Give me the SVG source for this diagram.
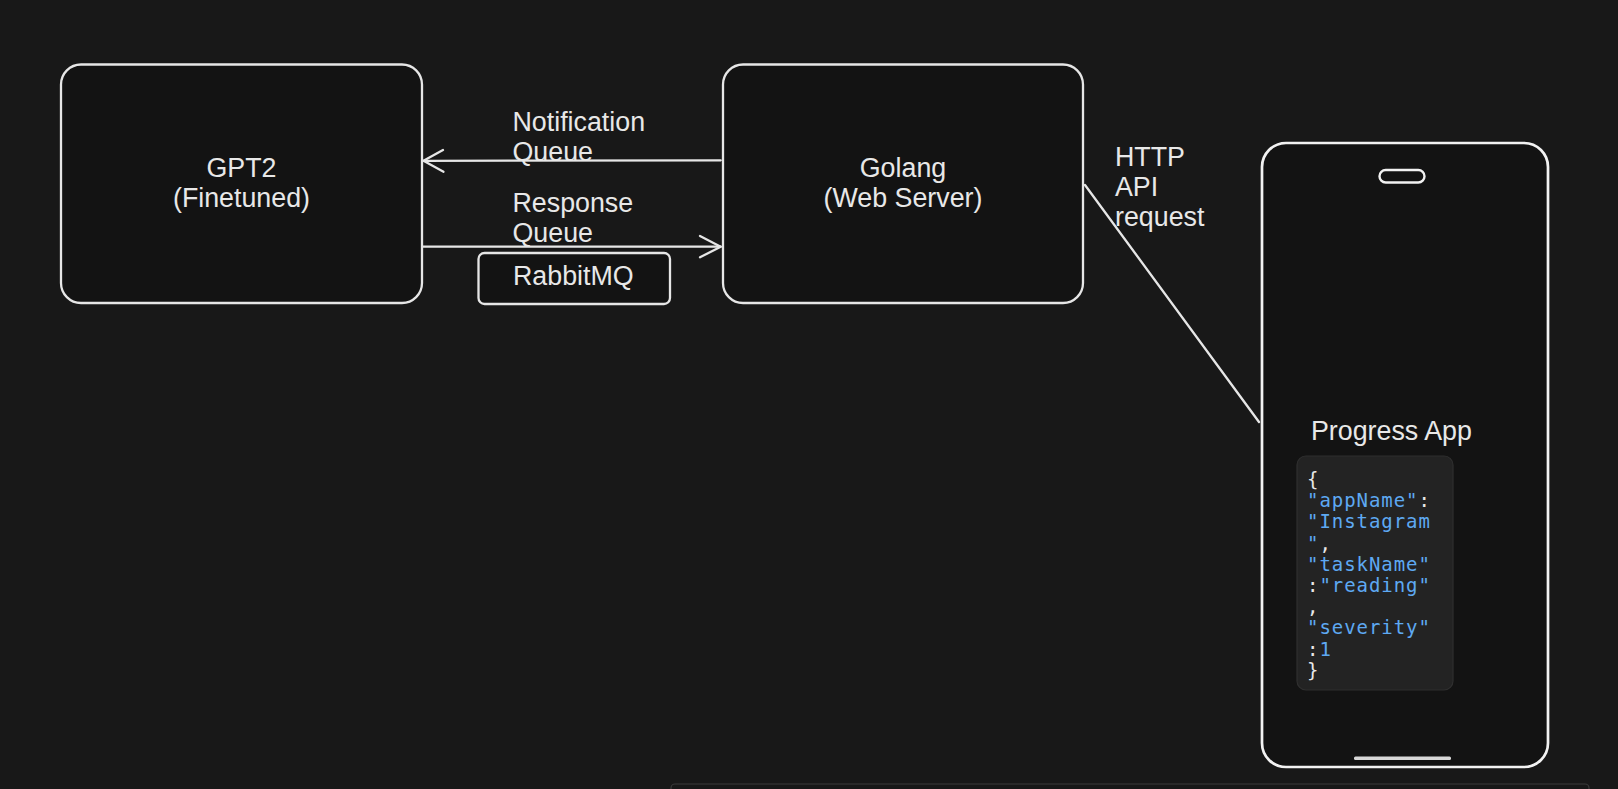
<svg xmlns="http://www.w3.org/2000/svg" width="1618" height="789" viewBox="0 0 1618 789">
  <style>
    .box { fill: #131313; stroke: #e6e6e6; stroke-width: 2.3; }
    .phone { fill: #131313; stroke: #f2f2f2; stroke-width: 2.7; }
    .lbl { font-family: "Liberation Sans", Arial, sans-serif; font-size: 26.8px; fill: #e8e8e8; }
    .mid { text-anchor: middle; }
    .code { font-family: "DejaVu Sans Mono", "Liberation Mono", monospace; font-size: 19px; letter-spacing: 0.95px; fill: #e8e8e8; }
    .k { fill: #5ea9f2; }
    .conn { fill: none; stroke: #e6e6e6; stroke-width: 2.3; stroke-linecap: round; stroke-linejoin: round; }
  </style>
  <rect x="0" y="0" width="1618" height="789" fill="#181818"/>

  <g id="gpt2">
    <rect class="box" x="61" y="64.5" width="361" height="238.5" rx="20"/>
    <text class="lbl mid" x="241.5" y="176.7">GPT2</text>
    <text class="lbl mid" x="241.5" y="206.7">(Finetuned)</text>
  </g>

  <g id="golang">
    <rect class="box" x="723" y="64.5" width="360" height="238.5" rx="20"/>
    <text class="lbl mid" x="903" y="176.7">Golang</text>
    <text class="lbl mid" x="903" y="206.7">(Web Server)</text>
  </g>

  <g id="rabbitmq">
    <rect class="box" x="478.5" y="253" width="191.5" height="51" rx="6"/>
    <text class="lbl" x="513" y="285">RabbitMQ</text>
  </g>

  <g id="connectors">
    <path class="conn" d="M720.7 160.3 L423.5 160.8"/>
    <path class="conn" d="M443 150 L423.5 160.8 L443.5 171.7"/>
    <path class="conn" d="M423 246.7 L720.7 246.7"/>
    <path class="conn" d="M700 236 L720.7 246.7 L700 257.3"/>
    <path class="conn" d="M1085 185 L1259 422"/>
  </g>

  <g id="labels">
    <text class="lbl" x="512.5" y="130.7">Notification</text>
    <text class="lbl" x="512.5" y="160.7">Queue</text>
    <text class="lbl" x="512.5" y="211.7">Response</text>
    <text class="lbl" x="512.5" y="241.7">Queue</text>
    <text class="lbl" x="1115" y="166">HTTP</text>
    <text class="lbl" x="1115" y="196">API</text>
    <text class="lbl" x="1115" y="226">request</text>
  </g>

  <g id="phone">
    <rect class="phone" x="1262" y="143" width="286" height="624" rx="24"/>
    <rect x="1379.5" y="170" width="45" height="12.5" rx="6.2" fill="none" stroke="#f2f2f2" stroke-width="2.4"/>
    <rect x="1354" y="756.5" width="97" height="3.5" rx="1.5" fill="#d8d8d8"/>
    <text class="lbl" x="1311" y="440">Progress App</text>
    <rect x="1297" y="456" width="156" height="234" rx="9" fill="#232323" stroke="#2f2f2f" stroke-width="1.2"/>
    <text class="code" x="1307" y="486">{</text>
    <text class="code" x="1307" y="507.2"><tspan class="k">"appName"</tspan>:</text>
    <text class="code" x="1307" y="528.4"><tspan class="k">"Instagram</tspan></text>
    <text class="code" x="1307" y="549.6"><tspan class="k">"</tspan>,</text>
    <text class="code" x="1307" y="570.8"><tspan class="k">"taskName"</tspan></text>
    <text class="code" x="1307" y="592">:<tspan class="k">"reading"</tspan></text>
    <text class="code" x="1307" y="613.2">,</text>
    <text class="code" x="1307" y="634.4"><tspan class="k">"severity"</tspan></text>
    <text class="code" x="1307" y="655.6">:<tspan class="k">1</tspan></text>
    <text class="code" x="1307" y="676.8">}</text>
  </g>

  <rect x="671" y="784" width="918" height="30" rx="4" fill="#181818" stroke="#3a3a3a" stroke-width="1.2"/>
</svg>
